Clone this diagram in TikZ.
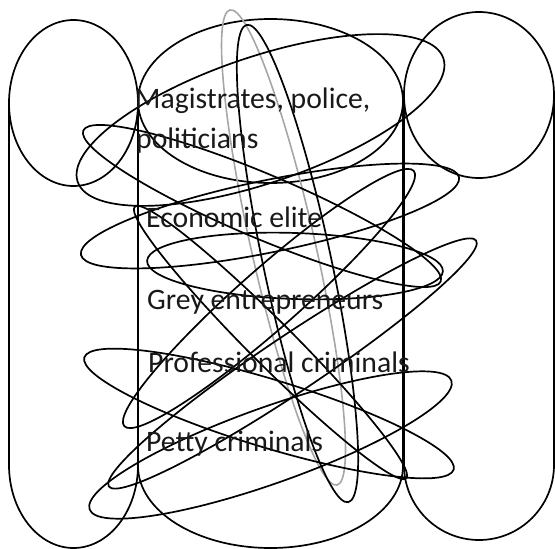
\documentclass[tikz,border=0pt]{standalone}
\usepackage{fontspec}
\setmainfont{Carlito}
\begin{document}
\begin{tikzpicture}[x=1pt,y=-1pt,
  ln/.style={line width=1.7pt, black},
  gln/.style={line width=1.6pt, black!35},
  lbl/.style={anchor=base west, inner sep=0pt, text=black!90, font=\fontsize{29.7}{35}\selectfont}]
\useasboundingbox (0,0) rectangle (555,549);
% cylinders
\draw[ln] (73.5,103) ellipse [x radius=64.5pt, y radius=83pt];
\draw[ln] (9,103) -- (9,465) arc[start angle=180, end angle=360, x radius=64.5pt, y radius=83pt] -- (138,103);
\draw[ln] (270.5,101) ellipse [x radius=132.5pt, y radius=82pt];
\draw[ln] (138,101) -- (138,466) arc[start angle=180, end angle=360, x radius=132.5pt, y radius=82pt] -- (403,101);
\draw[ln] (479,95) ellipse [x radius=75pt, y radius=83pt];
\draw[ln] (404,95) -- (404,465) arc[start angle=180, end angle=360, x radius=75pt, y radius=75pt] -- (554,95);
% tall ellipses
\draw[gln, rotate around={-77.3:(283.5,247.5)}] (283.5,247.5) ellipse [x radius=243.5pt, y radius=32pt];
\draw[ln, rotate around={-78:(297.5,263.5)}] (297.5,263.5) ellipse [x radius=244pt, y radius=34pt];
% wide ellipses
\draw[ln, rotate around={18.67:(260.5,120)}] (260.5,120) ellipse [x radius=193pt, y radius=63pt];
\draw[ln, rotate around={11.6:(270,216)}] (270,216) ellipse [x radius=193pt, y radius=36pt];
\draw[ln, rotate around={-22.9:(262,206)}] (262,206) ellipse [x radius=194pt, y radius=32pt];
\draw[ln, rotate around={-45:(270.5,342.5)}] (270.5,342.5) ellipse [x radius=192pt, y radius=22pt];
\draw[ln, rotate around={-2:(295,266)}] (295,266) ellipse [x radius=148pt, y radius=33pt];
\draw[ln, rotate around={-16.9:(269,413.5)}] (269,413.5) ellipse [x radius=193pt, y radius=34pt];
\draw[ln, rotate around={41.4:(269,298.5)}] (269,298.5) ellipse [x radius=193pt, y radius=30pt];
\draw[ln, rotate around={33.8:(292.5,363.5)}] (292.5,363.5) ellipse [x radius=221pt, y radius=28pt];
\draw[ln, rotate around={19.6:(270.5,445)}] (270.5,445) ellipse [x radius=192pt, y radius=38pt];
% labels
\node[lbl] (t1) at (135,108) {Magistrates, police,};
\node[lbl] (t2) at (136,148) {politicians};
\node[lbl] (t3) at (146,227) {Economic elite};
\node[lbl] (t4) at (147,309) {Grey entrepreneurs};
\node[lbl] (t5) at (148,372) {Professional criminals};
\node[lbl] (t6) at (146,451) {Petty criminals};
\end{tikzpicture}
\end{document}
